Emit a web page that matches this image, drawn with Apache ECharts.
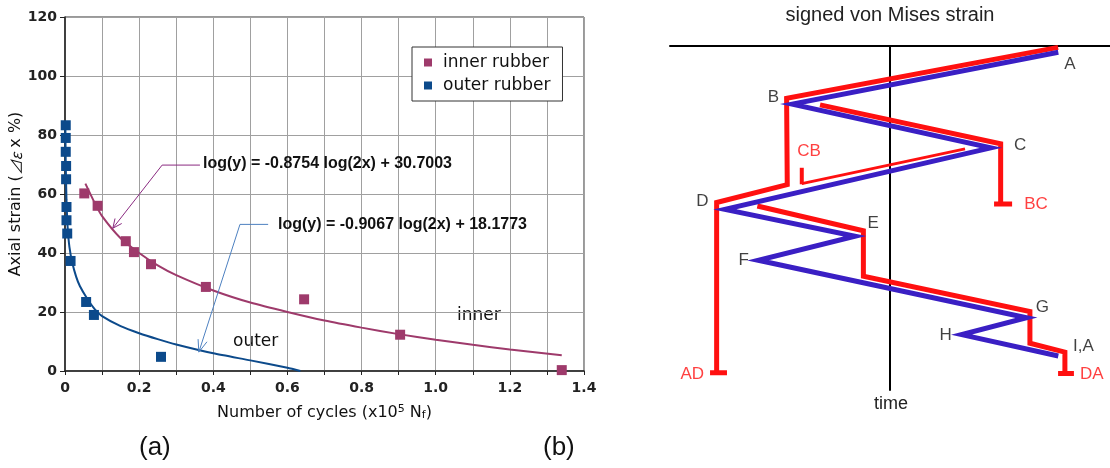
<!DOCTYPE html>
<html>
<head>
<meta charset="utf-8">
<script src="https://cdn.jsdelivr.net/npm/echarts@6/dist/echarts.min.js"></script>
<style>
html, body {margin: 0; padding: 0; background: #fff;}
#chart {width: 1110px; height: 468px;}
</style>
</head>
<body>
<div id="chart"></div>
<script>
// ---- (a) fatigue data, x in 10^5 cycles, y in % ----
var innerPts = [[0.052, 60.2], [0.088, 56], [0.164, 44], [0.186, 40.3], [0.232, 36.2], [0.380, 28.5], [0.645, 24.3], [0.904, 12.3], [1.340, 0.3]];
var outerPts = [[0.002, 83.3], [0.002, 79], [0.002, 74.3], [0.003, 69.5], [0.003, 65], [0.004, 55.6], [0.004, 51.1], [0.006, 46.6], [0.015, 37.3], [0.057, 23.4], [0.078, 19], [0.259, 4.8]];
// fitted curves
var innerFit = [[0.055, 63.5], [0.08, 57], [0.1, 52.5], [0.15, 45], [0.2, 40], [0.25, 35.8], [0.3, 32.5], [0.4, 27.3], [0.5, 23.2], [0.6, 20], [0.7, 17.1], [0.8, 14.7], [0.9, 12.5], [1.0, 10.6], [1.1, 8.9], [1.2, 7.3], [1.34, 5.3]];
var outerFit = [[0.001, 83], [0.002, 70], [0.004, 58], [0.007, 49], [0.012, 42], [0.02, 36.5], [0.03, 32], [0.04, 28.8], [0.06, 24.5], [0.08, 21], [0.1, 18.6], [0.15, 15.2], [0.2, 12.8], [0.25, 10.8], [0.3, 9], [0.4, 6], [0.5, 3.6], [0.6, 1.1], [0.635, 0]];
// leader lines for the fit equations
var innerLeader = [[0.364, 69.8], [0.262, 69.8], [0.129, 48.4]];
var innerHead = [[0.153, 50.0], [0.129, 48.4], [0.135, 51.7]];
var outerLeader = [[0.548, 49.7], [0.472, 49.7], [0.361, 6.4]];
var outerHead = [[0.383, 9.9], [0.361, 6.4], [0.359, 10.8]];
var xTicks = [0, 0.2, 0.4, 0.6, 0.8, 1.0, 1.2, 1.4];

// ---- (b) schematic, x = signed strain, y = time ----
var bluePath = [[76.5, 1.8], [-44.4, 16.9], [45.8, 29.6], [-75, 47.5], [-15.9, 55.3], [-59.9, 62.3], [62.1, 79.0], [32.6, 83.9], [76.5, 90.1]];
var redAD = [[76.4, 0.4], [-47, 15.2], [-46.7, 40.3], [-78.8, 45.5], [-78.8, 95.0]];
var redBC = [[-31.8, 17.1], [50.3, 28.4], [50.3, 45.9]];
var redCB = [[34.1, 29.9], [-40.1, 40.0]];
var redDA = [[-60.3, 46.5], [-12.1, 53.7], [-12.1, 66.9], [63.6, 77.2], [63.6, 86.4], [79.5, 89.0], [79.5, 95.2]];
var stopAD = [[-81.8, 95.0], [-74.1, 95.0]];
var stopBC = [[47.3, 45.9], [55.5, 45.9]];
var stopCB = [[-40.1, 35.4], [-40.1, 40.2]];
var stopDA = [[76.4, 95.2], [83.6, 95.2]];
var blackNames = ['A', 'B', 'C', 'D', 'E', 'F', 'G', 'H', 'I,A'];
var blackPos = [[81.8, 5.2], [-53, 14.8], [59.1, 28.9], [-85.3, 45.2], [-7.6, 51.5], [-66.5, 62.3], [69.2, 76.0], [25.3, 84.1], [87.9, 87.2]];
var redNames = ['CB', 'BC', 'AD', 'DA'];
var redPos = [[-36.8, 30.5], [66.4, 46.0], [-89.9, 95.4], [91.7, 95.4]];

var INNER = '#9e3a6b', OUTER = '#0c4a8b', RED = '#ff1010', BLUE = '#3a1fc4';

function labelData(names, pos) {
    return names.map(function (n, i) { return {name: n, value: pos[i]}; });
}
function schemLine(data, color, width) {
    return {
        type: 'line', xAxisIndex: 1, yAxisIndex: 1, data: data,
        symbol: 'none', silent: true,
        lineStyle: {color: color, width: width, cap: 'butt', join: 'miter'}
    };
}
function thinLine(data, color) {
    return {
        type: 'line', data: data, symbol: 'none', silent: true, z: 4,
        lineStyle: {color: color, width: 1}
    };
}

var chart = echarts.init(document.getElementById('chart'));
var tickFont = {fontFamily: 'DejaVu Sans', fontWeight: 'bold', fontSize: 14, color: '#222'};

var option = {
    animation: false,
    grid: [
        {left: 65, top: 17, width: 519, height: 354, show: true, borderColor: '#333', borderWidth: 1},
        {left: 670, top: 43, right: 0, bottom: 78}
    ],
    legend: {
        left: 412, top: 47, orient: 'vertical',
        data: ['inner rubber', 'outer rubber'],
        icon: 'rect', itemWidth: 8, itemHeight: 8, itemGap: 6,
        padding: [7, 12, 7, 12],
        backgroundColor: '#fff', borderColor: '#333', borderWidth: 1,
        textStyle: {fontFamily: 'DejaVu Sans', fontSize: 17, color: '#111', padding: [0, 0, 0, 6]}
    },
    xAxis: [
        {
            gridIndex: 0, type: 'value', min: 0, max: 1.4, interval: 0.1,
            name: 'Number of cycles (x10{sup|5} N{sub|f})',
            nameLocation: 'middle', nameGap: 33,
            nameTextStyle: {
                fontFamily: 'DejaVu Sans', fontSize: 16, color: '#111',
                rich: {
                    sup: {fontSize: 11, verticalAlign: 'top', padding: [0, 0, 6, 0]},
                    sub: {fontSize: 11, verticalAlign: 'bottom', padding: [6, 0, 0, 0]}
                }
            },
            axisLine: {lineStyle: {color: '#222', width: 1.5}},
            axisTick: {length: 4, lineStyle: {color: '#222'}},
            axisLabel: Object.assign({
                margin: 10,
                formatter: function (v) {
                    var i = xTicks.findIndex(function (t) { return Math.abs(t - v) < 1e-6; });
                    if (i < 0) return '';
                    return i === 0 ? '0' : xTicks[i].toFixed(1);
                }
            }, tickFont),
            splitLine: {lineStyle: {color: '#a0a0a0', width: 1}}
        },
        {
            gridIndex: 1, type: 'value', min: -100, max: 100,
            name: 'signed von Mises strain', nameLocation: 'middle', nameGap: 21,
            nameTextStyle: {fontFamily: 'Liberation Sans', fontSize: 20, color: '#222'},
            axisLine: {onZero: false, lineStyle: {color: '#000', width: 2}},
            position: 'top',
            axisTick: {show: false}, axisLabel: {show: false}, splitLine: {show: false}
        }
    ],
    yAxis: [
        {
            gridIndex: 0, type: 'value', min: 0, max: 120, interval: 20,
            name: 'Axial strain ({it|⊿ε} x %)',
            nameLocation: 'middle', nameGap: 37,
            nameTextStyle: {
                fontFamily: 'DejaVu Sans', fontSize: 16, color: '#111',
                rich: {it: {fontFamily: 'Noto Sans CJK KR', fontStyle: 'italic', fontSize: 15}}
            },
            axisLine: {lineStyle: {color: '#222', width: 1.5}},
            axisTick: {length: 5, lineStyle: {color: '#222'}},
            axisLabel: Object.assign({margin: 8}, tickFont),
            splitLine: {lineStyle: {color: '#a0a0a0', width: 1}}
        },
        {
            gridIndex: 1, type: 'value', min: 0, max: 100, inverse: true,
            axisLine: {onZero: true, lineStyle: {color: '#000', width: 2}},
            axisTick: {show: false}, axisLabel: {show: false}, splitLine: {show: false}
        }
    ],
    graphic: [
        {type: 'text', left: 203, top: 156, z: 10, style: {text: 'log(y) = -0.8754 log(2x) + 30.7003', font: 'bold 16px "Liberation Sans"', fill: '#111'}},
        {type: 'text', left: 278, top: 217, z: 10, style: {text: 'log(y) = -0.9067 log(2x) + 18.1773', font: 'bold 16px "Liberation Sans"', fill: '#111'}},
        {type: 'text', left: 233, top: 333, style: {text: 'outer', font: '17px "DejaVu Sans"', fill: '#111'}},
        {type: 'text', left: 457, top: 307, style: {text: 'inner', font: '17px "DejaVu Sans"', fill: '#111'}},
        {type: 'text', left: 139, top: 435, style: {text: '(a)', font: '26px "Liberation Sans"', fill: '#111'}},
        {type: 'text', left: 543, top: 435, style: {text: '(b)', font: '26px "Liberation Sans"', fill: '#111'}},
        {type: 'text', left: 874, top: 395, style: {text: 'time', font: '18px "Liberation Sans"', fill: '#222'}}
    ],
    series: [
        {type: 'line', data: innerFit, smooth: 0.2, symbol: 'none', silent: true, z: 2, lineStyle: {color: INNER, width: 2}},
        {type: 'line', data: outerFit, smooth: 0.2, symbol: 'none', silent: true, z: 2, lineStyle: {color: OUTER, width: 2}},
        {name: 'inner rubber', type: 'scatter', data: innerPts, symbol: 'rect', symbolSize: 10, z: 3, itemStyle: {color: INNER, opacity: 1}},
        {name: 'outer rubber', type: 'scatter', data: outerPts, symbol: 'rect', symbolSize: 10, z: 3, itemStyle: {color: OUTER, opacity: 1}},
        thinLine(innerLeader, '#8a2a80'),
        thinLine(innerHead, '#8a2a80'),
        thinLine(outerLeader, '#4d80c0'),
        thinLine(outerHead, '#4d80c0'),

        schemLine(redAD, RED, 5),
        schemLine(redBC, RED, 5),
        schemLine(redCB, RED, 3),
        schemLine(redDA, RED, 5),
        schemLine(stopAD, RED, 5),
        schemLine(stopBC, RED, 5),
        schemLine(stopCB, RED, 4),
        schemLine(stopDA, RED, 5),
        schemLine(bluePath, BLUE, 5),
        {
            type: 'scatter', xAxisIndex: 1, yAxisIndex: 1, symbolSize: 0, silent: true,
            data: labelData(blackNames, blackPos),
            label: {show: true, position: 'inside', formatter: '{b}', fontFamily: 'Liberation Sans', fontSize: 17, color: '#111'}
        },
        {
            type: 'scatter', xAxisIndex: 1, yAxisIndex: 1, symbolSize: 0, silent: true,
            data: labelData(redNames, redPos),
            label: {show: true, position: 'inside', formatter: '{b}', fontFamily: 'Liberation Sans', fontSize: 17, color: RED}
        }
    ]
};
chart.setOption(option);
</script>
</body>
</html>
